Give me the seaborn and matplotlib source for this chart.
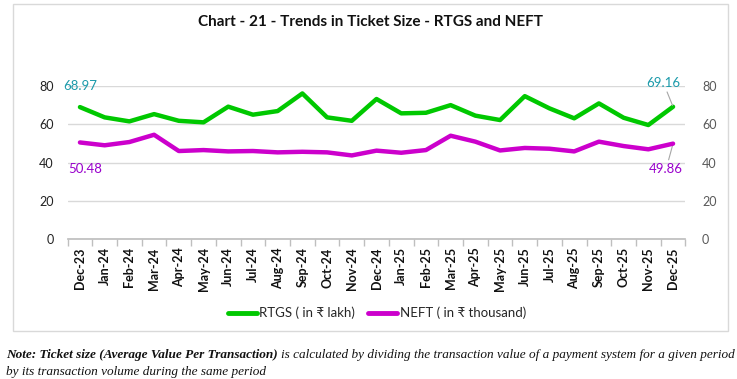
import matplotlib
matplotlib.use("Agg")
import matplotlib.pyplot as plt
import seaborn as sns
import pandas as pd
from matplotlib.patches import Rectangle
from matplotlib.lines import Line2D

months = ["Dec-23", "Jan-24", "Feb-24", "Mar-24", "Apr-24", "May-24", "Jun-24", "Jul-24",
          "Aug-24", "Sep-24", "Oct-24", "Nov-24", "Dec-24", "Jan-25", "Feb-25", "Mar-25",
          "Apr-25", "May-25", "Jun-25", "Jul-25", "Aug-25", "Sep-25", "Oct-25", "Nov-25", "Dec-25"]
rtgs = [68.97, 63.6, 61.5, 65.3, 61.8, 61.0, 69.2, 65.0, 66.9, 76.1, 63.6, 61.8, 73.2,
        65.7, 66.0, 70.0, 64.5, 62.2, 74.7, 68.3, 63.1, 70.9, 63.4, 59.6, 69.16]
neft = [50.48, 49.0, 50.7, 54.5, 46.0, 46.5, 45.8, 46.0, 45.3, 45.6, 45.3, 43.7, 46.2,
        45.1, 46.5, 54.0, 50.9, 46.3, 47.6, 47.2, 45.8, 50.9, 48.6, 46.9, 49.86]
y_ticks = [0, 20, 40, 60, 80]

rtgs_label = "RTGS ( in \u20b9 lakh)"
neft_label = "NEFT ( in \u20b9 thousand)"
green = "#00C800"
magenta = "#CC00CC"

sns.set_theme(style="white")
plt.rcParams["font.family"] = ["Lato", "DejaVu Sans"]

df = pd.DataFrame({"idx": range(len(months)), "rtgs": rtgs, "neft": neft})

fig = plt.figure(figsize=(7.37, 3.79), dpi=100)
ax = fig.add_axes([67.6 / 737, 1 - 239 / 379, (685.4 - 67.6) / 737, (239 - 86) / 379])
ax2 = ax.twinx()

sns.lineplot(data=df, x="idx", y="rtgs", ax=ax, color=green, linewidth=3.2)
sns.lineplot(data=df, x="idx", y="neft", ax=ax2, color=magenta, linewidth=3.2)

for a in (ax, ax2):
    a.set_ylim(0, 80)
    a.set_yticks(y_ticks)
    a.set_xlim(-0.5, len(months) - 0.5)
    a.set_xlabel("")
    a.set_ylabel("")
    for s in a.spines.values():
        s.set_visible(False)

ax.yaxis.grid(True, color="#D9D9D9", linewidth=1)
ax.set_axisbelow(True)
ax.tick_params(axis="y", labelsize=9, colors="#222222", length=0, pad=10)
ax2.tick_params(axis="y", labelsize=9, colors="#595959", length=0, pad=12)
ax.spines["bottom"].set_visible(True)
ax.spines["bottom"].set_color("#BFBFBF")

ax.set_xticks(range(len(months)))
ax.set_xticklabels(months, rotation=90, fontsize=9, fontweight="bold", color="#111111")
ax.set_xticks([i - 0.5 for i in range(len(months) + 1)], minor=True)
ax.tick_params(axis="x", which="major", length=0, pad=6)
ax.tick_params(axis="x", which="minor", length=5, color="#BFBFBF", bottom=True)

# data labels
teal = "#1B9AAA"
purple = "#9900CC"
ax.annotate(f"{rtgs[0]:.2f}", xy=(0, rtgs[0]), xytext=(0, 11), textcoords="offset points",
            ha="center", va="bottom", color=teal, fontsize=9.5, annotation_clip=False)
ax.annotate(f"{neft[0]:.2f}", xy=(0, neft[0]), xytext=(4, -15), textcoords="offset points",
            ha="center", va="top", color=purple, fontsize=9.5, annotation_clip=False)
n = len(months) - 1
ax.annotate(f"{rtgs[-1]:.2f}", xy=(n, rtgs[-1]), xytext=(-7, 13), textcoords="offset points",
            ha="center", va="bottom", color=teal, fontsize=9.5, annotation_clip=False,
            arrowprops=dict(arrowstyle="-", color="#A6A6A6", lw=0.8, shrinkA=0, shrinkB=1))
ax.annotate(f"{neft[-1]:.2f}", xy=(n, neft[-1]), xytext=(-5, -14), textcoords="offset points",
            ha="center", va="top", color=purple, fontsize=9.5, annotation_clip=False,
            arrowprops=dict(arrowstyle="-", color="#A6A6A6", lw=0.8, shrinkA=0, shrinkB=1))

fig.text(370 / 737, 1 - 22 / 379, "Chart - 21 - Trends in Ticket Size - RTGS and NEFT",
         ha="center", va="center", fontsize=11, fontweight="bold", color="#111111")

handles = [Line2D([], [], color=green, lw=3.5), Line2D([], [], color=magenta, lw=3.5)]
fig.legend(handles, [rtgs_label, neft_label], loc="center", ncol=2,
           bbox_to_anchor=(377 / 737, 1 - 313 / 379), frameon=False, fontsize=9.5,
           handlelength=2.2, handletextpad=0.2, columnspacing=1.0)

fig.patches.append(Rectangle((12.5 / 737, 1 - 330.5 / 379), (727.5 - 12.5) / 737, (330.5 - 3.5) / 379,
                             transform=fig.transFigure, fill=False, edgecolor="#D9D9D9", lw=1))

# note below the box
fig.canvas.draw()
r = fig.canvas.get_renderer()
note_font = ["Liberation Serif", "DejaVu Serif"]
t1 = fig.text(6 / 737, 1 - 355 / 379, "Note: Ticket size (Average Value Per Transaction)",
              ha="left", va="center", fontsize=9.5, style="italic", fontweight="bold",
              family=note_font, color="#111111")
bb = t1.get_window_extent(r)
fig.text((bb.x1 + 3) / (7.37 * 100), 1 - 355 / 379,
         "is calculated by dividing the transaction value of a payment system for a given period",
         ha="left", va="center", fontsize=9.5, style="italic", family=note_font, color="#111111")
fig.text(6 / 737, 1 - 372 / 379, "by its transaction volume during the same period",
         ha="left", va="center", fontsize=9.5, style="italic", family=note_font, color="#111111")

fig.savefig("out.png", dpi=100, facecolor="white")
